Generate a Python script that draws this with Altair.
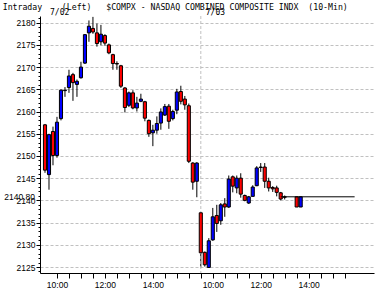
import altair as alt
import pandas as pd

# ---- chart texts ----
NB = "\u00a0"  # non-breaking space keeps the title's wide gaps in SVG text
title_text = ("Intraday" + NB * 4 + "(Left)" + NB * 3 + "$COMPX - NASDAQ COMBINED COMPOSITE INDX"
              + NB * 2 + "(10-Min)")
day_labels = ["7/02", "7/03"]
day_start = [0, 39]          # bar index at which each session starts (9:30)
boundary = [39]              # session separator
last_label = ["2140.80"]
last_price = [2140.80]
last_from = [59]
last_to = [77.5]

# ---- x axis (bar index = 10-minute steps from 9:30 on 7/02) ----
tick_pos = list(range(3, 76, 3))
label_pos = [3, 15, 27, 42, 54, 66]
label_txt = ["10:00", "12:00", "14:00", "10:00", "12:00", "14:00"]

# ---- 10-minute candles ----
idx = list(range(0, 39)) + list(range(39, 61)) + [63, 64]
opens = [
    2157.0, 2145.8, 2155.5, 2150.1, 2158.4, 2164.7, 2165.4, 2168.3, 2166.1, 2167.6,
    2170.9, 2177.7, 2178.7, 2177.7, 2175.7, 2177.1, 2175.0, 2172.8, 2170.8, 2170.3,
    2165.3, 2161.4, 2164.2, 2160.8, 2162.3, 2162.2, 2158.0, 2155.2, 2155.8, 2157.4,
    2159.2, 2161.2, 2158.4, 2160.3, 2164.5, 2162.8, 2161.3, 2148.4, 2144.3,
    2137.2, 2128.3, 2124.9, 2131.1, 2136.6, 2135.4, 2139.2, 2138.5, 2145.3, 2142.8,
    2145.0, 2141.1, 2139.4, 2140.9, 2143.3, 2147.4, 2147.5, 2144.3, 2142.9, 2142.8,
    2141.7, 2140.8, 2140.8, 2138.5,
]
highs = [
    2157.2, 2155.0, 2156.6, 2158.8, 2165.0, 2165.5, 2169.4, 2168.7, 2167.2, 2171.2,
    2177.4, 2180.5, 2181.3, 2179.8, 2179.5, 2177.4, 2175.3, 2173.0, 2171.3, 2170.5,
    2165.5, 2164.5, 2164.8, 2163.3, 2164.0, 2162.4, 2158.2, 2157.0, 2158.9, 2160.7,
    2161.7, 2161.7, 2160.4, 2165.1, 2165.8, 2163.5, 2161.8, 2148.6, 2148.6,
    2137.3, 2128.5, 2131.5, 2138.3, 2139.0, 2139.4, 2140.5, 2145.6, 2145.6, 2145.6,
    2146.1, 2141.3, 2141.0, 2143.4, 2147.7, 2148.4, 2148.4, 2145.1, 2143.2, 2143.3,
    2141.9, 2141.1, 2140.8, 2140.8,
]
lows = [
    2146.2, 2142.4, 2147.9, 2149.6, 2158.0, 2163.3, 2164.2, 2162.4, 2163.3, 2167.4,
    2170.7, 2175.7, 2177.5, 2174.6, 2174.9, 2174.8, 2172.9, 2169.4, 2169.4, 2165.3,
    2159.8, 2161.0, 2160.5, 2160.0, 2162.1, 2157.8, 2154.3, 2152.2, 2155.0, 2155.9,
    2159.0, 2156.1, 2158.0, 2159.4, 2161.6, 2160.4, 2148.4, 2142.4, 2140.7,
    2124.9, 2125.1, 2124.8, 2130.9, 2132.9, 2134.5, 2136.3, 2138.3, 2141.8, 2141.6,
    2140.6, 2139.8, 2139.2, 2140.9, 2143.2, 2146.4, 2142.8, 2142.0, 2141.9, 2140.9,
    2140.0, 2140.2, 2138.5, 2138.5,
]
closes = [
    2146.8, 2154.8, 2150.1, 2157.6, 2164.8, 2164.8, 2168.0, 2166.5, 2166.8, 2170.0,
    2177.3, 2179.2, 2177.9, 2175.3, 2177.4, 2175.4, 2173.2, 2170.8, 2170.7, 2165.7,
    2160.9, 2164.2, 2160.8, 2161.9, 2162.8, 2158.5, 2155.0, 2155.8, 2157.3, 2159.9,
    2161.1, 2157.8, 2160.0, 2164.4, 2162.3, 2161.5, 2148.8, 2144.1, 2148.4,
    2128.2, 2125.5, 2130.9, 2136.3, 2134.8, 2139.0, 2138.5, 2144.8, 2143.2, 2145.0,
    2141.4, 2140.0, 2140.8, 2143.0, 2147.3, 2147.5, 2144.3, 2142.8, 2142.6, 2141.8,
    2140.3, 2140.7, 2138.5, 2140.8,
]
assert len(idx) == len(opens) == len(highs) == len(lows) == len(closes)

df = pd.DataFrame({"idx": idx, "open": opens, "high": highs, "low": lows, "close": closes})
df["dir"] = ["up" if c >= o else "down" for o, c in zip(opens, closes)]

FONT = "Liberation Sans"
MONO = "DejaVu Sans Mono"
GRID = "#c0c0c0"

xscale = alt.Scale(domain=[0, 81.1], nice=False, zero=False)
yscale = alt.Scale(domain=[2123.65, 2181.5], nice=False, zero=False)

label_expr = " : ".join(f"datum.value == {p} ? '{t}'" for p, t in zip(label_pos, label_txt)) + " : ''"
cond5 = "datum.value % 5 === 0"

xaxis = alt.Axis(values=tick_pos, labelExpr=label_expr, tickSize=5, grid=False,
                 domainColor="black", tickColor="black", labelColor="black",
                 labelFont=FONT, labelFontSize=8.5, labelPadding=2,
                 labelOverlap=False, labelFlush=False, title=None)
yaxis = alt.Axis(values=list(range(2124, 2182)), format="d",
                 labelExpr=f"{cond5} ? datum.label : ''",
                 tickSize={"condition": {"test": cond5, "value": 4}, "value": 2},
                 gridOpacity={"condition": {"test": cond5, "value": 1}, "value": 0},
                 grid=True, gridColor=GRID, gridDash=[3, 2],
                 domainColor="black", tickColor="black", labelColor="black",
                 labelFont=FONT, labelFontSize=8.5, labelPadding=1,
                 labelOverlap=False, labelFlush=False, title=None)


def X(field):
    return alt.X(field, scale=xscale, axis=xaxis)


def Y(field):
    return alt.Y(field, scale=yscale, axis=yaxis)


base = alt.Chart(df)

wicks = base.mark_rule(color="black", strokeWidth=1).encode(
    x=X("idx:Q"), y=Y("low:Q"), y2="high:Q",
)

sep = alt.Chart(pd.DataFrame({"b": boundary})).mark_rule(
    color=GRID, strokeDash=[3, 2], strokeWidth=1
).encode(x=X("b:Q"))

bodies = base.mark_bar(size=3.1, stroke="black", strokeWidth=1).encode(
    x=X("idx:Q"), y=Y("open:Q"), y2="close:Q",
    color=alt.Color("dir:N", scale=alt.Scale(domain=["up", "down"], range=["#0000ff", "#ff0000"]), legend=None),
)

last_df = pd.DataFrame({"a": last_from, "b": last_to, "p": last_price, "t": last_label})
last_line = alt.Chart(last_df).mark_rule(color="black", strokeWidth=1).encode(
    x=X("a:Q"), x2="b:Q", y=Y("p:Q"),
)
last_text = alt.Chart(last_df).mark_text(
    align="right", baseline="middle", font=FONT, fontSize=8.5, color="black"
).encode(x=alt.value(-5), y=Y("p:Q"), text="t:N")

day_df = pd.DataFrame({"s": day_start, "l": day_labels})
day_text = alt.Chart(day_df).mark_text(
    align="left", baseline="alphabetic", dx=5, font=MONO, fontSize=8, color="black"
).encode(x=X("s:Q"), y=alt.value(-1), text="l:N")

title = alt.Chart(pd.DataFrame({"t": [title_text]})).mark_text(
    align="left", baseline="alphabetic", font=MONO, fontSize=8.2, color="black"
).encode(x=alt.value(-37.3), y=alt.value(-6), text="t:N")

chart = alt.layer(wicks, sep, bodies, last_line, last_text, day_text, title).properties(
    width=334, height=257,
    padding={"left": 40, "top": 16, "right": 4, "bottom": 18},
    autosize=alt.AutoSizeParams(type="none"),
    background="white",
).configure_view(stroke=None)

chart.save("out.html", embed_options={"renderer": "svg", "actions": False})
